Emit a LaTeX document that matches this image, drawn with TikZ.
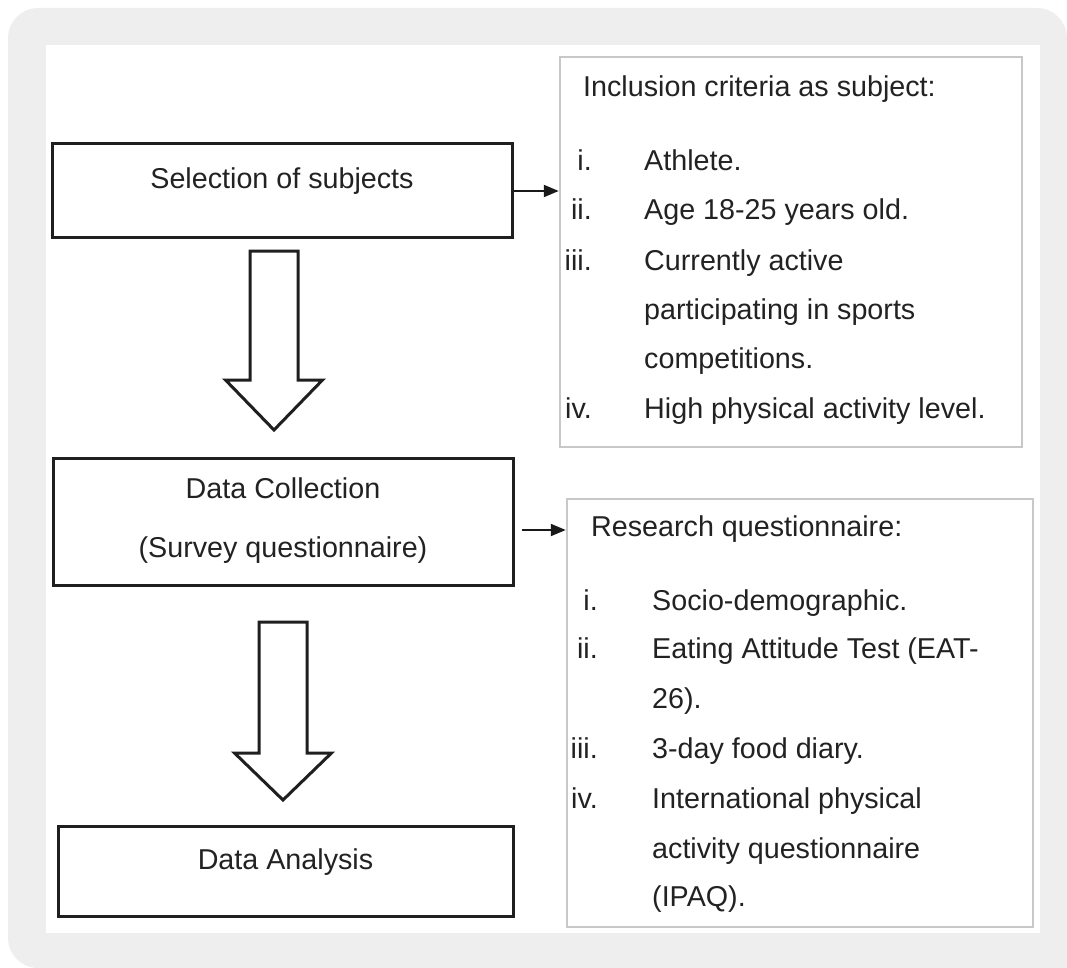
\documentclass[tikz,border=0pt]{standalone}
\usepackage{fontspec}
\setmainfont{Liberation Sans}
\usetikzlibrary{arrows.meta}
\definecolor{bggray}{HTML}{EEEEEE}
\definecolor{txt}{HTML}{222222}
\definecolor{boxgray}{HTML}{C8C8C8}
\begin{document}
\begin{tikzpicture}[x=1pt,y=-1pt,
  font=\fontsize{28.7}{49.5}\selectfont, text=txt,
  mainbox/.style={draw=black!88, line width=3pt, fill=white, inner sep=0pt},
  infobox/.style={draw=boxgray, line width=2.5pt, fill=white, inner sep=0pt},
  lbl/.style={anchor=base, inner sep=0pt},
  item/.style={anchor=base west, inner sep=0pt},
  num/.style={anchor=base east, inner sep=0pt},
  bigarrow/.style={draw=black!88, line width=3pt, fill=white, line join=miter},
  link/.style={draw=black!90, line width=2pt, -{Triangle[length=15pt,width=12pt]}}]
\useasboundingbox (0,0) rectangle (1067,968);
\fill[bggray, rounded corners=30pt] (8,8) rectangle (1067,968);
\fill[bggray] (1000,900) rectangle (1067,968);
\fill[white] (46,45) rectangle (1040,933);

% left column
\node[mainbox, minimum width=460pt, minimum height=94pt] (sel) at (282,191) {};
\node[lbl] (selt) at (282,189) {Selection of subjects};

\node[mainbox, minimum width=460pt, minimum height=127pt] (col) at (283,521.5) {};
\node[lbl] (colt1) at (283,498) {Data Collection};
\node[lbl] (colt2) at (283,557) {(Survey questionnaire)};

\node[mainbox, minimum width=455pt, minimum height=90pt] (ana) at (285.5,871) {};
\node[lbl] (anat) at (285.5,869) {Data Analysis};

\draw[bigarrow] (250,251) -- (298,251) -- (298,380) -- (322.5,380) -- (274,430) -- (225.5,380) -- (250,380) -- cycle;
\draw[bigarrow] (259,622) -- (307,622) -- (307,753) -- (331.5,753) -- (283,800) -- (234.5,753) -- (259,753) -- cycle;

% inclusion box
\node[infobox, minimum width=462pt, minimum height=390pt] (inc) at (791,252) {};
\node[item] (inct) at (583,97) {Inclusion criteria as subject:};
\node[num] (inc1n) at (592,171) {i.};
\node[item] (inc1) at (644,171) {Athlete.};
\node[num] (inc2n) at (592,219.3) {ii.};
\node[item] (inc2) at (644,219.3) {Age 18-25 years old.};
\node[num] (inc3n) at (592,270) {iii.};
\node[item] (inc3a) at (644,270) {Currently active};
\node[item] (inc3b) at (644,319.3) {participating in sports};
\node[item] (inc3c) at (644,368.3) {competitions.};
\node[num] (inc4n) at (592,418.3) {iv.};
\node[item] (inc4) at (644,418.3) {High physical activity level.};

% research box
\node[infobox, minimum width=466pt, minimum height=428pt] (res) at (800,713) {};
\node[item] (rest) at (591,536.7) {Research questionnaire:};
\node[num] (res1n) at (598,610.7) {i.};
\node[item] (res1) at (652,610.7) {Socio-demographic.};
\node[num] (res2n) at (598,658.3) {ii.};
\node[item] (res2a) at (652,658.3) {Eating Attitude Test (EAT-};
\node[item] (res2b) at (652,708.3) {26).};
\node[num] (res3n) at (598,758.3) {iii.};
\node[item] (res3) at (652,758.3) {3-day food diary.};
\node[num] (res4n) at (598,808.3) {iv.};
\node[item] (res4a) at (652,808.3) {International physical};
\node[item] (res4b) at (652,858.3) {activity questionnaire};
\node[item] (res4c) at (652,906.7) {(IPAQ).};

% connectors
\draw[link] (sel.east) -- (sel.east -| inc.west);
\coordinate (colout) at ([shift={(7,8.5)}]col.east);
\draw[link] (colout) -- (colout -| res.west);
\end{tikzpicture}
\end{document}
